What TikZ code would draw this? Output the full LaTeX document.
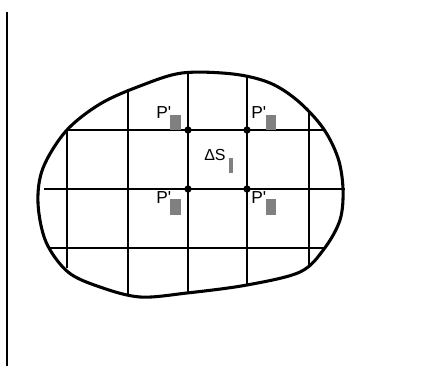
\documentclass[tikz,border=0pt]{standalone}
\usepackage{fontspec}
\setmainfont{Liberation Sans}
\begin{document}
\begin{tikzpicture}[x=0.75pt,y=-0.75pt,
  boundary/.style={line width=2.3pt,line join=round},
  gridline/.style={line width=1pt},
  dotnode/.style={circle,fill=black,inner sep=0pt,minimum size=5.5pt},
  lbl/.style={inner sep=0pt,anchor=base west,font=\fontsize{13}{15}\selectfont},
  sub/.style={fill=black!50,draw=none}]
\useasboundingbox (0,0) rectangle (428,367);
\fill[white] (0,0) rectangle (428,367);
% left axis
\draw[line width=1pt] (7,12) -- (7,366);
% boundary
\draw[boundary] plot[smooth cycle,tension=0.55] coordinates {
 (182,73) (233,74) (270,83) (298,101) (323,128)
 (338,158) (343,189) (340,220) (324,249) (300,272)
 (247,285) (187,293) (140,297) (100,287) (68,272)
 (46,242) (38,203) (43,168) (66,131) (100,104) (140,86)};
% grid
\draw[gridline] (67,130) -- (323,130);
\draw[gridline] (44,189) -- (345,189);
\draw[gridline] (50,248) -- (325,248);
\draw[gridline] (67,130) -- (67,268);
\draw[gridline] (128,89) -- (128,294);
\draw[gridline] (188,73) -- (188,294);
\draw[gridline] (247,76) -- (247,286);
\draw[gridline] (309,111) -- (309,268);
% intersection points
\node[dotnode] (p1) at (188,130) {};
\node[dotnode] (p2) at (247,130) {};
\node[dotnode] (p3) at (188,189) {};
\node[dotnode] (p4) at (247,189) {};
% labels
\node[lbl] (l1) at (156,119) {P\textquotesingle};
\fill[sub] (170,115) rectangle (181,130);
\node[lbl] (l2) at (251,119) {P\textquotesingle};
\fill[sub] (266,115) rectangle (276,130);
\node[lbl] (l3) at (156,203) {P\textquotesingle};
\fill[sub] (170,199) rectangle (181,215);
\node[lbl] (l4) at (251,203) {P\textquotesingle};
\fill[sub] (266,199) rectangle (276,215);
\node[lbl,font=\fontsize{12}{14}\selectfont] (ds) at (204,161) {ΔS};
\fill[sub] (229,158) rectangle (233,173);
\end{tikzpicture}
\end{document}
